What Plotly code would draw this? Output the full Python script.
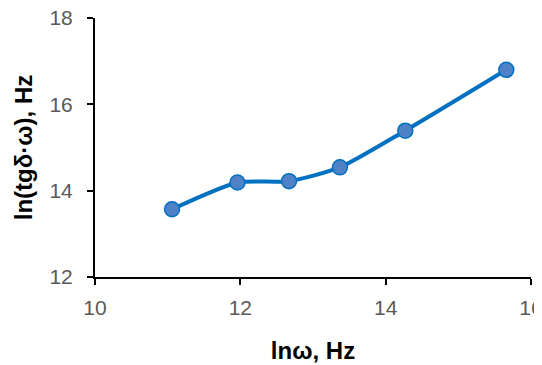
import plotly.graph_objects as go

ln_omega = [11.06, 11.96, 12.67, 13.37, 14.27, 15.66]
ln_tg_omega = [13.57, 14.19, 14.22, 14.54, 15.39, 16.80]

x_ticks = [10, 12, 14, 16]
y_ticks = [12, 14, 16, 18]

fig = go.Figure(go.Scatter(
    x=ln_omega, y=ln_tg_omega, mode="lines+markers",
    line=dict(color="#0070C0", width=4, shape="spline", smoothing=0.6),
    marker=dict(size=15, color="#4F81C7", line=dict(color="#0070C0", width=1.5)),
))

axis_common = dict(
    showgrid=False, zeroline=False, showline=True, linecolor="black", linewidth=2,
    ticks="outside", ticklen=6, tickwidth=2, tickcolor="black", automargin=False,
    ticklabeloverflow="allow",
    tickfont=dict(family="Liberation Sans, Arial", size=21, color="#595959"),
)

fig.update_layout(
    width=542, height=365, plot_bgcolor="white", paper_bgcolor="white",
    margin=dict(l=87, r=19, t=10, b=96), showlegend=False,
    xaxis=dict(range=[10, 16], tickvals=x_ticks, ticktext=[str(v) for v in x_ticks],
               ticklabelstandoff=5,
               title=dict(text="<b>lnω, Hz</b>", standoff=24,
                          font=dict(family="Liberation Sans, Arial", size=24, color="black")),
               **axis_common),
    yaxis=dict(range=[12, 18], tickvals=y_ticks, ticktext=[str(v) for v in y_ticks],
               ticklabelstandoff=10,
               title=dict(text="<b>ln(tgδ·ω), Hz</b>", standoff=10,
                          font=dict(family="Liberation Sans, Arial", size=24, color="black")),
               **axis_common),
)

fig.write_html("out.html")
